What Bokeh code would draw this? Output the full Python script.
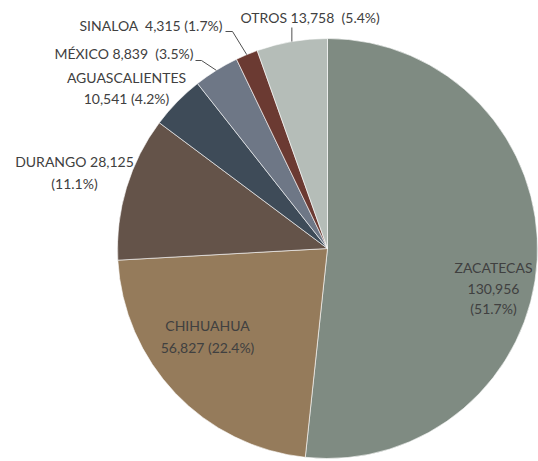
import math
from bokeh.plotting import figure
from bokeh.models import Range1d, ColumnDataSource
from bokeh.core.properties import value
from bokeh.embed import file_html
from bokeh.resources import INLINE

# ---- data ----
states = ["ZACATECAS", "CHIHUAHUA", "DURANGO", "AGUASCALIENTES", "MÉXICO", "SINALOA", "OTROS"]
values = [130956, 56827, 28125, 10541, 8839, 4315, 13758]
colors = ["#7f8b82", "#957b5b", "#645349", "#3e4b58", "#6e7786", "#6b3a32", "#b5bdb8"]

W, H = 538, 461
PAGE_H = 461
def py(y):  # page pixel y -> data y
    return PAGE_H - y

CX, CY, R = 327, py(248), 210

total = sum(values)
pcts = [v / total * 100 for v in values]
cum = [0.0]
for v in values:
    cum.append(cum[-1] + v / total)
starts = [math.pi / 2 - cum[i + 1] * 2 * math.pi for i in range(len(values))]
ends = [math.pi / 2 - cum[i] * 2 * math.pi for i in range(len(values))]
mids = [math.pi / 2 - (cum[i] + cum[i + 1]) * math.pi for i in range(len(values))]

p = figure(width=W, height=H, output_backend="svg", toolbar_location=None,
           x_range=Range1d(0, W), y_range=Range1d(py(H), py(0)),
           min_border=0)
p.axis.visible = False
p.grid.visible = False
p.outline_line_color = None
p.background_fill_color = "white"

src = ColumnDataSource(dict(start=starts, end=ends, color=colors))
p.wedge(x=CX, y=CY, radius=R, start_angle="start", end_angle="end",
        fill_color="color", line_color="white", line_width=0.6, source=src)

def fmt(v):
    return f"{v:,}"

def lab(i):
    return f"({pcts[i]:.1f}%)"

NB = "\u00a0"
FONT = value("Lato")
TC = "#404040"
FS = "14px"

layout = [
    ([states[0], fmt(values[0]), lab(0)], 493, [267, 288, 308], "center"),
    ([states[1], f"{fmt(values[1])} {lab(1)}"], 207, [325, 347], "center"),
    ([f"{states[2]} {fmt(values[2])}", lab(2)], 74, [161, 183], "center"),
    ([states[3], f"{fmt(values[3])} {lab(3)}"], 126, [77, 98], "center"),
    ([f"{states[4]} {fmt(values[4])}{NB}{NB}{lab(4)}"], 193, [53], "right"),
    ([f"{states[5]}{NB}{NB}{fmt(values[5])} {lab(5)}"], 222, [25], "right"),
    ([f"{states[6]} {fmt(values[6])}{NB}{NB}{lab(6)}"], 240, [17], "left"),
]
for lines, x, ys, align in layout:
    for t, y in zip(lines, ys):
        p.text(x=[x], y=[py(y)], text=[t], text_align=align, text_baseline="middle",
               text_font=FONT, text_font_size=FS, text_color=TC)

# leader lines (end point on slice mid-angle)
def edge(i):
    return CX + R * math.cos(mids[i]), CY + R * math.sin(mids[i])

ex, ey = edge(4)
p.line([195, 201, ex], [py(60), py(60), ey], line_color="#505050", line_width=1)
ex, ey = edge(5)
p.line([225, 232, ex], [py(31), py(31), ey], line_color="#505050", line_width=1)
ex, ey = edge(6)
p.line([ex, ex], [py(27), ey], line_color="#505050", line_width=1)

open("out.html", "w").write(file_html(p, INLINE))
